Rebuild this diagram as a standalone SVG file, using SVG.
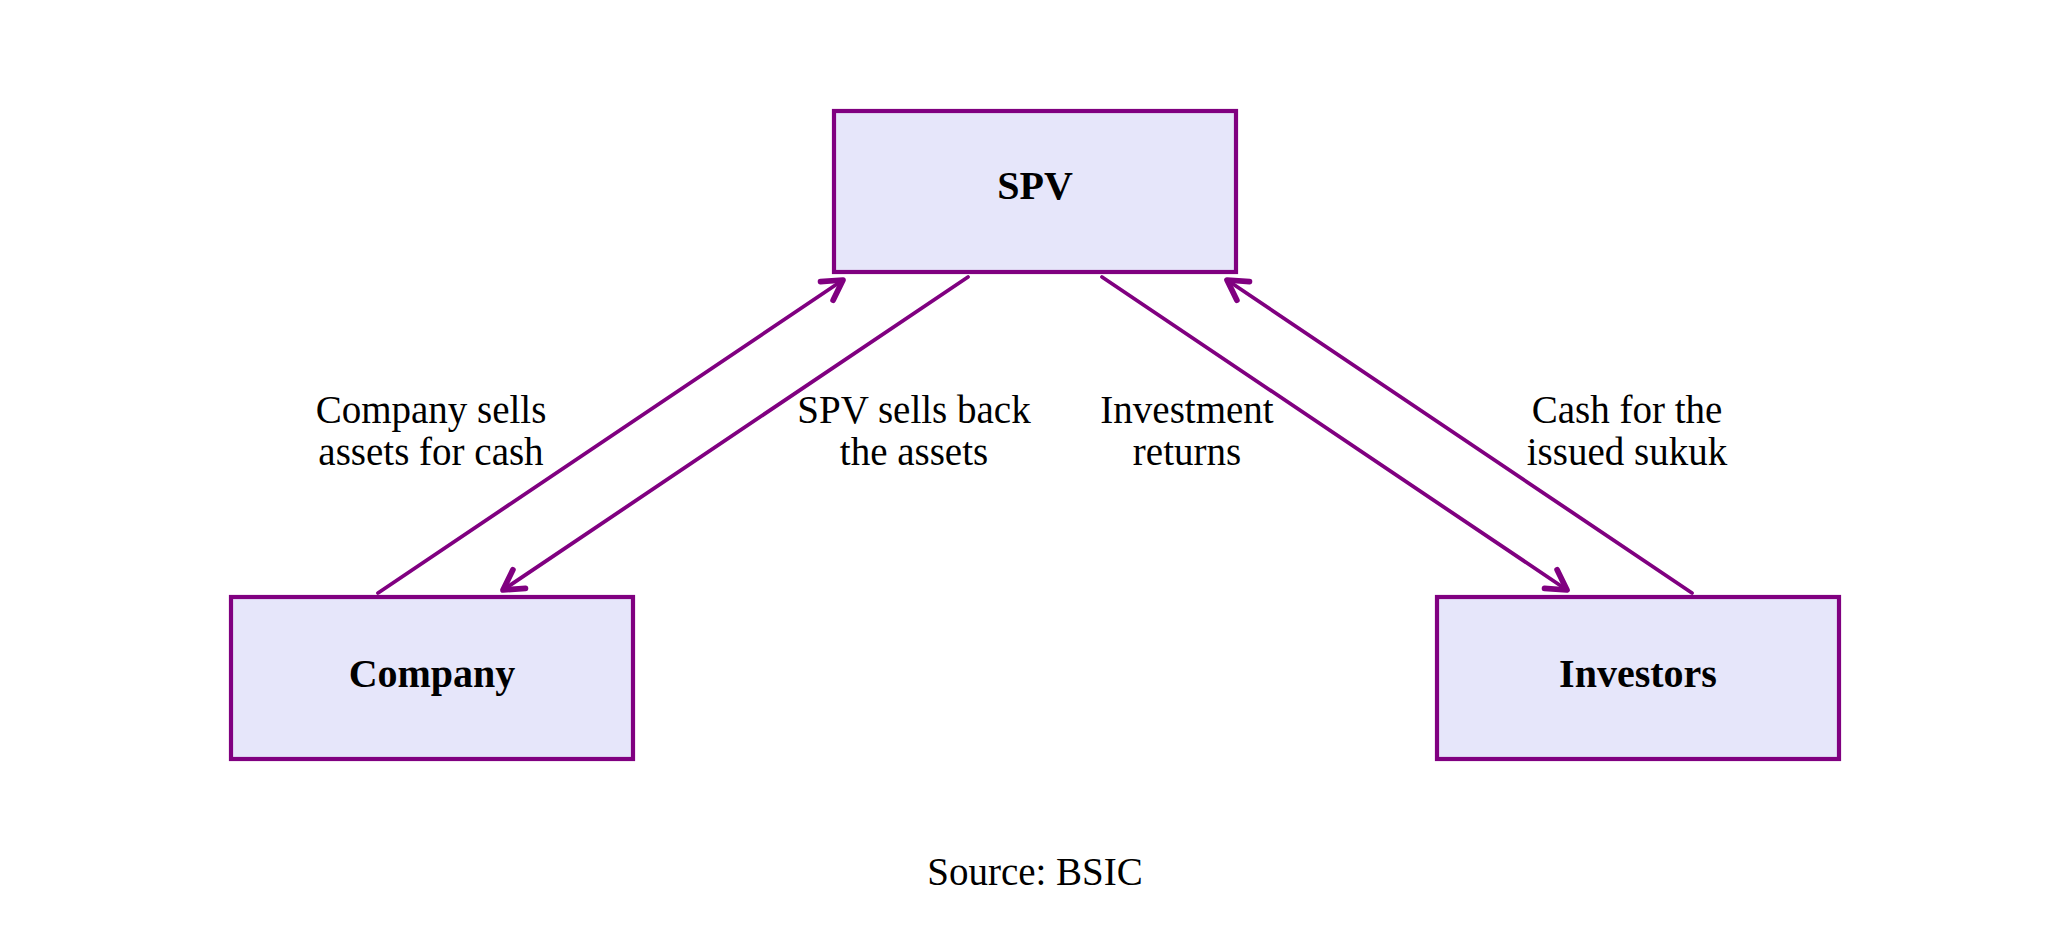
<svg xmlns="http://www.w3.org/2000/svg" width="2070" height="925" viewBox="0 0 2070 925">
<style>
.box{fill:#E6E6FA;stroke:#800080;stroke-width:4.2}
.node{font-family:"Liberation Serif","Times New Roman",serif;font-weight:bold;font-size:40px;fill:#000;text-anchor:middle}
.lbl{font-family:"Liberation Serif","Times New Roman",serif;font-size:39px;fill:#000;text-anchor:middle}
.edge{stroke:#800080;stroke-width:3.8;fill:none;stroke-linecap:round}
</style>
<defs>
<marker id="arr" markerUnits="userSpaceOnUse" markerWidth="30" markerHeight="30" viewBox="-16 -10 20 20" refX="0" refY="0" orient="auto">
<path d="M-13,-7.5 L0,0 L-13,7.5" fill="none" stroke="#800080" stroke-width="3.8" stroke-linecap="round" stroke-linejoin="round"/>
</marker>
</defs>
<rect width="2070" height="925" fill="#fff"/>
<g id="spv">
<rect class="box" x="834" y="111" width="402" height="161"/>
<text class="node" x="1035" y="199">SPV</text>
</g>
<g id="company">
<rect class="box" x="231" y="597" width="402" height="162"/>
<text class="node" x="432" y="687">Company</text>
</g>
<g id="investors">
<rect class="box" x="1437" y="597" width="402" height="162"/>
<text class="node" x="1638" y="687">Investors</text>
</g>
<g id="connectors">
<line class="edge" x1="378" y1="593" x2="843" y2="280" marker-end="url(#arr)"/>
<line class="edge" x1="968" y1="277" x2="503" y2="590" marker-end="url(#arr)"/>
<line class="edge" x1="1102" y1="277" x2="1567" y2="590" marker-end="url(#arr)"/>
<line class="edge" x1="1692" y1="593" x2="1227" y2="280" marker-end="url(#arr)"/>
</g>
<g id="labels">
<text class="lbl" x="431" y="423">Company sells</text>
<text class="lbl" x="431" y="465">assets for cash</text>
<text class="lbl" x="914" y="423">SPV sells back</text>
<text class="lbl" x="914" y="465">the assets</text>
<text class="lbl" x="1187" y="423">Investment</text>
<text class="lbl" x="1187" y="465">returns</text>
<text class="lbl" x="1627" y="423">Cash for the</text>
<text class="lbl" x="1627" y="465">issued sukuk</text>
</g>
<text id="source" class="lbl" x="1035" y="885">Source: BSIC</text>
</svg>
